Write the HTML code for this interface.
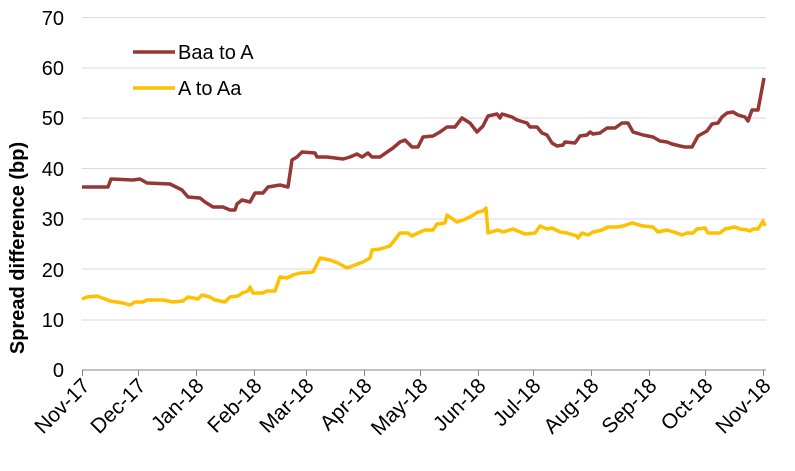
<!DOCTYPE html>
<html><head><meta charset="utf-8"><style>
html,body{margin:0;padding:0;background:#fff;}
svg text{font-family:"Liberation Sans",Arial,sans-serif;fill:#000;}
</style></head><body>
<svg width="795" height="466" viewBox="0 0 795 466" xmlns="http://www.w3.org/2000/svg">
<g stroke="#d9d9d9" stroke-width="1">
<line x1="82" y1="17.5" x2="766" y2="17.5"/><line x1="82" y1="68" x2="766" y2="68"/>
<line x1="82" y1="118" x2="766" y2="118"/><line x1="82" y1="168.5" x2="766" y2="168.5"/>
<line x1="82" y1="219" x2="766" y2="219"/><line x1="82" y1="269" x2="766" y2="269"/>
<line x1="82" y1="320" x2="766" y2="320"/>
</g>
<g stroke="#868686" stroke-width="1">
<line x1="82" y1="370" x2="766" y2="370"/>
<line x1="82.5" y1="370" x2="82.5" y2="376"/><line x1="138.5" y1="370" x2="138.5" y2="376"/>
<line x1="196.5" y1="370" x2="196.5" y2="376"/><line x1="254.5" y1="370" x2="254.5" y2="376"/>
<line x1="306.5" y1="370" x2="306.5" y2="376"/><line x1="364.5" y1="370" x2="364.5" y2="376"/>
<line x1="420.5" y1="370" x2="420.5" y2="376"/><line x1="478.5" y1="370" x2="478.5" y2="376"/>
<line x1="533.5" y1="370" x2="533.5" y2="376"/><line x1="591.5" y1="370" x2="591.5" y2="376"/>
<line x1="649.5" y1="370" x2="649.5" y2="376"/><line x1="705.5" y1="370" x2="705.5" y2="376"/>
<line x1="763.5" y1="370" x2="763.5" y2="376"/>
</g>
<g font-size="20" text-anchor="end">
<text x="64" y="25">70</text><text x="64" y="75">60</text><text x="64" y="125">50</text>
<text x="64" y="176">40</text><text x="64" y="226">30</text><text x="64" y="277">20</text>
<text x="64" y="327">10</text><text x="64" y="377">0</text>
</g>
<text transform="translate(24,248) rotate(-90)" font-size="20" font-weight="bold" text-anchor="middle">Spread difference (bp)</text>
<g font-size="21" text-anchor="end">
<text transform="translate(91,387) rotate(-45)">Nov-17</text>
<text transform="translate(147,387) rotate(-45)">Dec-17</text>
<text transform="translate(205,387) rotate(-45)">Jan-18</text>
<text transform="translate(263,387) rotate(-45)">Feb-18</text>
<text transform="translate(315,387) rotate(-45)">Mar-18</text>
<text transform="translate(373,387) rotate(-45)">Apr-18</text>
<text transform="translate(429,387) rotate(-45)">May-18</text>
<text transform="translate(487,387) rotate(-45)">Jun-18</text>
<text transform="translate(542,387) rotate(-45)">Jul-18</text>
<text transform="translate(600,387) rotate(-45)">Aug-18</text>
<text transform="translate(658,387) rotate(-45)">Sep-18</text>
<text transform="translate(714,387) rotate(-45)">Oct-18</text>
<text transform="translate(772,387) rotate(-45)">Nov-18</text>
</g>
<polyline fill="none" stroke="#953735" stroke-width="3.5" stroke-linejoin="round" points="82,187 108,187 111,179 133,180 140,179 147,183 170,184 182,190 188,197 200,198 205,202 213,207 223,207 230,210 235,210 237,204 242,200 250,202 255,193 263,193 268,187 280,185 288,187 292,160 297,157 302,152 315,153 317,157 327,157 343,159 350,157 357,154 362,157 368,153 372,157 380,157 393,148 400,142 405,140 412,147 418,147 423,137 433,136 440,132 447,127 455,127 462,118 470,123 477,132 483,126 488,116 497,114 500,118 502,114 512,117 517,120 527,123 530,127 537,127 542,133 547,135 552,143 557,146 563,145 565,142 575,143 580,136 587,135 590,132 593,134 600,133 607,128 615,128 622,123 628,123 633,132 643,135 653,137 660,141 667,142 672,144 680,146 685,147 692,147 698,136 707,131 712,124 718,123 722,117 727,113 733,112 738,115 745,117 748,121 752,110 758,110 764,78"/>
<polyline fill="none" stroke="#ffc000" stroke-width="3.5" stroke-linejoin="round" points="82,299 87,297 97,296 105,299 110,301 123,303 130,305 135,302 143,302 147,300 163,300 173,302 183,301 188,297 198,299 202,295 210,297 215,300 225,302 230,297 238,296 242,293 248,291 250,287 253,293 263,293 267,291 275,291 280,277 287,278 293,275 300,273 313,272 320,258 330,260 338,263 347,268 355,265 363,262 370,258 372,250 380,249 390,246 400,233 408,233 412,236 418,233 425,230 433,230 437,224 445,223 447,215 457,222 463,220 470,217 478,212 483,211 486,208 488,233 498,230 503,232 513,229 525,234 535,233 540,226 547,229 552,228 560,232 567,233 577,236 578,238 582,233 588,235 593,232 602,230 608,227 617,227 623,226 632,223 643,226 653,227 658,232 667,230 677,233 682,235 687,233 693,233 697,229 705,228 708,233 720,233 725,229 735,227 740,229 747,230 750,231 753,229 758,229 763,221 765,226"/>
<line x1="133" y1="52" x2="175" y2="52" stroke="#953735" stroke-width="3.5"/>
<line x1="133" y1="88" x2="175" y2="88" stroke="#ffc000" stroke-width="3.5"/>
<text x="178" y="59" font-size="20">Baa to A</text>
<text x="178" y="95" font-size="20">A to Aa</text>
</svg>
</body></html>
